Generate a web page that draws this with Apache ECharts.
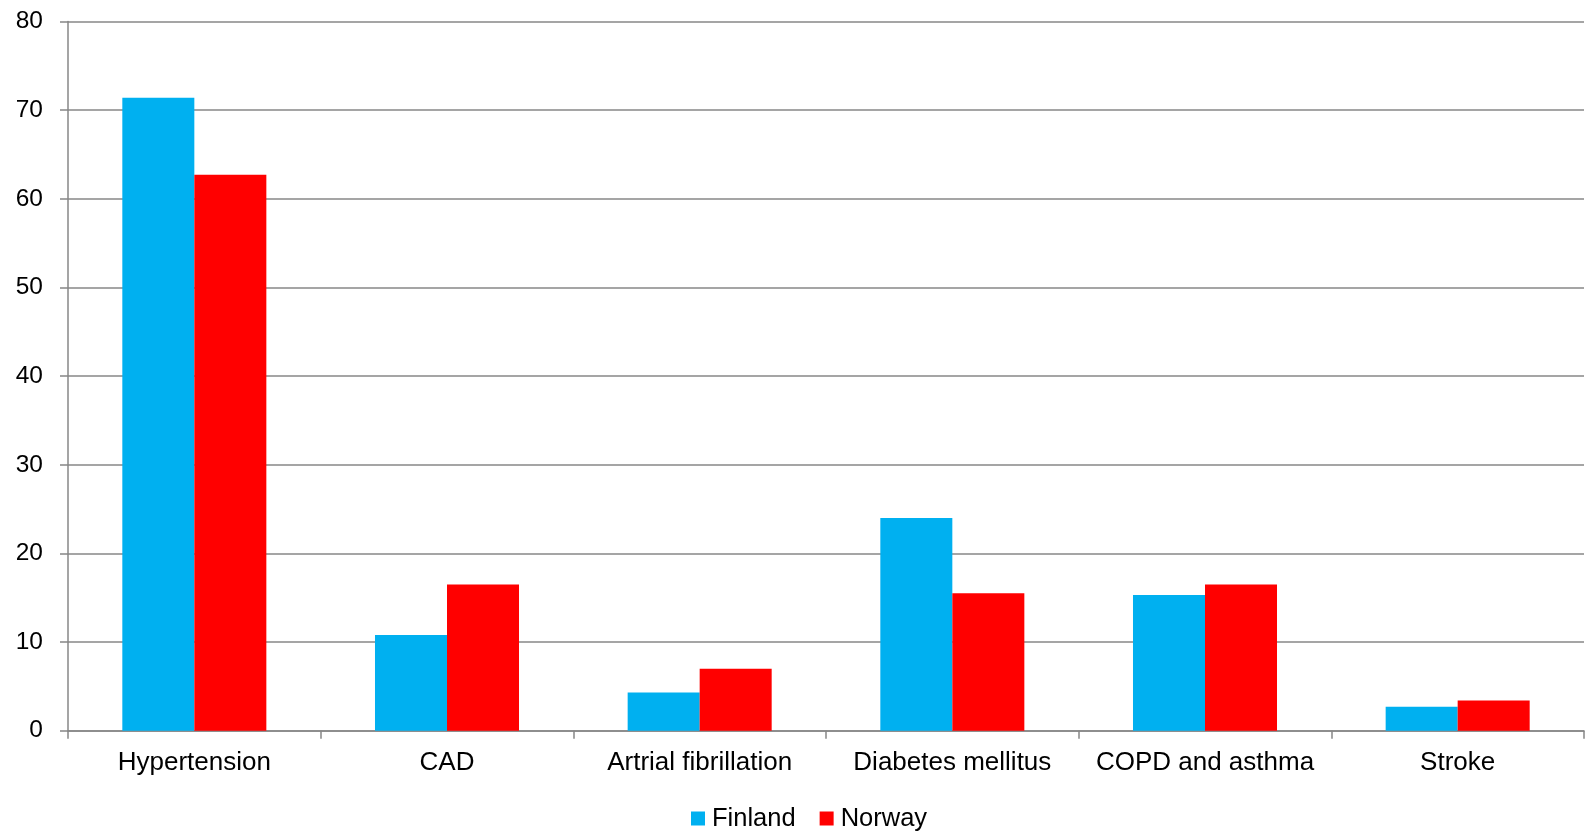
<!DOCTYPE html>
<html>
<head>
<meta charset="utf-8">
<style>
  html, body { margin: 0; padding: 0; background: #fff; overflow: hidden; }
  #chart { width: 1585px; height: 866px; }
</style>
<script src="https://cdn.jsdelivr.net/npm/echarts@6/dist/echarts.min.js"></script>
</head>
<body>
<div id="chart"></div>
<script>
// Prevalence of chronic conditions by country (%)
const categories = ['Hypertension', 'CAD', 'Artrial fibrillation', 'Diabetes mellitus', 'COPD and asthma', 'Stroke'];
const finland = [71.4, 10.8, 4.3, 24.0, 15.3, 2.7];
const norway = [62.7, 16.5, 7.0, 15.5, 16.5, 3.4];
const seriesNames = ['Finland', 'Norway'];

const font = '"Liberation Sans", Arial, sans-serif';
const axisGrey = '#878787';

const chart = echarts.init(document.getElementById('chart'));
chart.setOption({
  animation: false,
  backgroundColor: '#ffffff',
  textStyle: { fontFamily: font, color: '#000' },
  // the container is a little taller than the window; the plot ends at y = 730.7
  grid: { left: 68, right: 1, top: 21.5, bottom: 135.3, containLabel: false },
  legend: {
    data: seriesNames,
    top: 805.5,
    left: 691,
    padding: 0,
    itemWidth: 14,
    itemHeight: 14,
    itemGap: 24,
    icon: 'rect',
    textStyle: { fontFamily: font, fontSize: 25.5, color: '#000', padding: [0, 0, 0, 2] }
  },
  xAxis: {
    type: 'category',
    data: categories,
    axisLine: { lineStyle: { color: axisGrey, width: 1.5 } },
    axisTick: { show: true, length: 8, alignWithLabel: false, lineStyle: { color: axisGrey, width: 1.5 } },
    axisLabel: { fontFamily: font, fontSize: 26, color: '#000', margin: 19, interval: 0 }
  },
  yAxis: {
    type: 'value',
    min: 0,
    max: 80,
    interval: 10,
    axisLine: { show: true, lineStyle: { color: axisGrey, width: 1.5 } },
    axisTick: { show: true, length: 8, lineStyle: { color: axisGrey, width: 1.5 } },
    axisLabel: { fontFamily: font, fontSize: 24.5, color: '#000', margin: 25 },
    splitLine: { show: true, lineStyle: { color: axisGrey, width: 1.5 } }
  },
  series: [
    {
      name: seriesNames[0],
      type: 'bar',
      data: finland,
      itemStyle: { color: '#00B0F0' },
      barGap: '0%',
      barCategoryGap: '43%'
    },
    {
      name: seriesNames[1],
      type: 'bar',
      data: norway,
      itemStyle: { color: '#FF0000' },
      barGap: '0%',
      barCategoryGap: '43%'
    }
  ]
});
</script>
</body>
</html>
